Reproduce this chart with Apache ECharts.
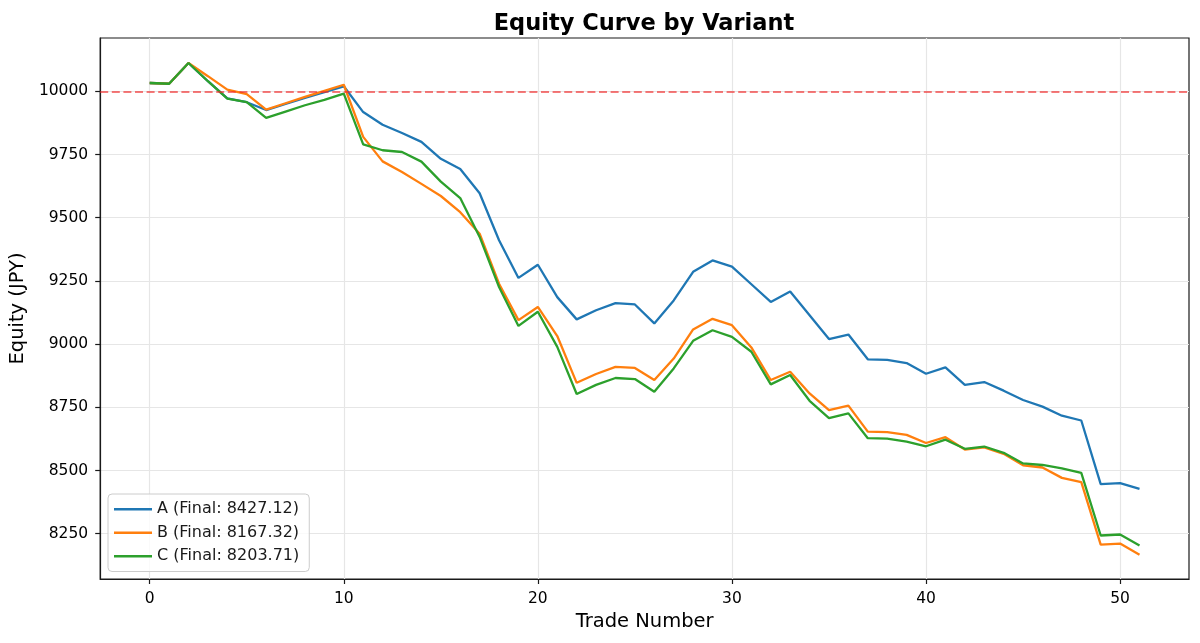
<!DOCTYPE html>
<html>
<head>
<meta charset="utf-8">
<script src="https://cdn.jsdelivr.net/npm/echarts@6/dist/echarts.min.js"></script>
<style>
  html, body { margin: 0; padding: 0; background: #fff; }
  #main { width: 1200px; height: 643px; }
</style>
</head>
<body>
<div id="main"></div>
<script>
// equity per trade
var equityA = [10033, 10030, 10112, 10040, 9972, 9957, 9926, 9950, 9974, 9997,
  10020, 9918, 9868, 9835, 9800, 9733, 9693, 9597, 9411, 9262,
  9314, 9186, 9098, 9134, 9162, 9157, 9082, 9173, 9286, 9331,
  9307, 9237, 9167, 9208, 9114, 9020, 9038, 8940, 8938, 8925,
  8883, 8908, 8839, 8850, 8816, 8779, 8753, 8717, 8698, 8446,
  8450, 8427.12];
var equityB = [10033, 10030, 10112, 10060, 10007, 9989, 9928, 9953, 9978, 10002,
  10026, 9820, 9723, 9681, 9634, 9586, 9522, 9437, 9239, 9095,
  9147, 9032, 8847, 8882, 8910, 8906, 8858, 8943, 9058, 9100,
  9075, 8987, 8858, 8891, 8805, 8739, 8757, 8654, 8652, 8641,
  8609, 8632, 8583, 8592, 8566, 8521, 8512, 8471, 8454, 8207,
  8211, 8167.32];
var equityC = [10033, 10030, 10112, 10040, 9971, 9957, 9895, 9920, 9945, 9966,
  9991, 9790, 9767, 9760, 9722, 9643, 9578, 9424, 9226, 9072,
  9128, 8989, 8803, 8839, 8866, 8862, 8812, 8904, 9013, 9055,
  9029, 8970, 8841, 8878, 8776, 8707, 8726, 8628, 8626, 8614,
  8596, 8622, 8586, 8595, 8570, 8528, 8522, 8509, 8491, 8243,
  8247, 8203.71];

var variants = ['A', 'B', 'C'];
var colors = ['#1f77b4', '#ff7f0e', '#2ca02c'];
var xTicks = [0, 10, 20, 30, 40, 50];
var yTicks = [8250, 8500, 8750, 9000, 9250, 9500, 9750, 10000];
var startEquity = 10000;

var font = 'DejaVu Sans';

var toPoints = function(values) {
  return values.map(function(v, i) { return [i, v]; });
};

var makeSeries = function(name, values, color, withLine) {
  var s = {
    name: name + ' (Final: ' + values[values.length - 1].toFixed(2) + ')',
    type: 'line',
    data: toPoints(values),
    showSymbol: false,
    symbol: 'none',
    lineStyle: { color: color, width: 2.3 },
    itemStyle: { color: color },
    emphasis: { disabled: true }
  };
  if (withLine) {
    // break-even reference line
    s.markLine = {
      silent: true,
      symbol: 'none',
      label: { show: false },
      lineStyle: { color: 'rgba(240, 40, 40, 0.62)', type: [8, 3.6], width: 2.2 },
      data: [{ yAxis: startEquity }]
    };
  }
  return s;
};

var chart = echarts.init(document.getElementById('main'));

var option = {
  animation: false,
  backgroundColor: '#fff',
  title: {
    text: 'Equity Curve by Variant',
    left: 639,
    top: 8,
    textAlign: 'center',
    textStyle: { fontFamily: font, fontSize: 22.5, fontWeight: 'bold', color: '#000' }
  },
  grid: {
    left: 100,
    right: 11,
    top: 38,
    bottom: 64,
    show: true,
    borderColor: '#1a1a1a',
    borderWidth: 1.2,
    backgroundColor: 'transparent'
  },
  legend: {
    orient: 'vertical',
    left: 108,
    top: 494,
    padding: [7, 10, 7, 6],
    itemGap: 7,
    itemWidth: 38,
    itemHeight: 2.5,
    icon: 'rect',
    backgroundColor: 'rgba(255,255,255,0.8)',
    borderColor: '#cccccc',
    borderWidth: 1,
    borderRadius: 4,
    textStyle: { fontFamily: font, fontSize: 16, color: '#1a1a1a', lineHeight: 16.5 }
  },
  xAxis: {
    type: 'value',
    min: -2.55,
    max: 53.55,
    name: 'Trade Number',
    nameLocation: 'middle',
    nameGap: 33,
    nameTextStyle: { fontFamily: font, fontSize: 19.5, color: '#000' },
    axisLine: { show: true, onZero: false, lineStyle: { color: '#1a1a1a', width: 1.2 } },
    axisTick: { show: true, length: 5, customValues: xTicks, lineStyle: { color: '#1a1a1a', width: 1.2 } },
    axisLabel: { customValues: xTicks, margin: 12, fontFamily: font, fontSize: 15.5, color: '#000' },
    splitLine: { show: true, lineStyle: { color: '#e6e6e6', width: 1.2 } }
  },
  yAxis: {
    type: 'value',
    min: 8071,
    max: 10211,
    name: 'Equity (JPY)',
    nameLocation: 'middle',
    nameGap: 67,
    nameTextStyle: { fontFamily: font, fontSize: 19.5, color: '#000' },
    axisLine: { show: true, onZero: false, lineStyle: { color: '#1a1a1a', width: 1.2 } },
    axisTick: { show: true, length: 5, customValues: yTicks, lineStyle: { color: '#1a1a1a', width: 1.2 } },
    axisLabel: {
      customValues: yTicks,
      margin: 12,
      fontFamily: font,
      fontSize: 15.5,
      color: '#000',
      formatter: function(v) { return String(v); }
    },
    splitLine: { show: true, lineStyle: { color: '#e6e6e6', width: 1.2 } }
  },
  series: [
    makeSeries(variants[0], equityA, colors[0], true),
    makeSeries(variants[1], equityB, colors[1], false),
    makeSeries(variants[2], equityC, colors[2], false)
  ]
};

chart.setOption(option);
</script>
</body>
</html>
